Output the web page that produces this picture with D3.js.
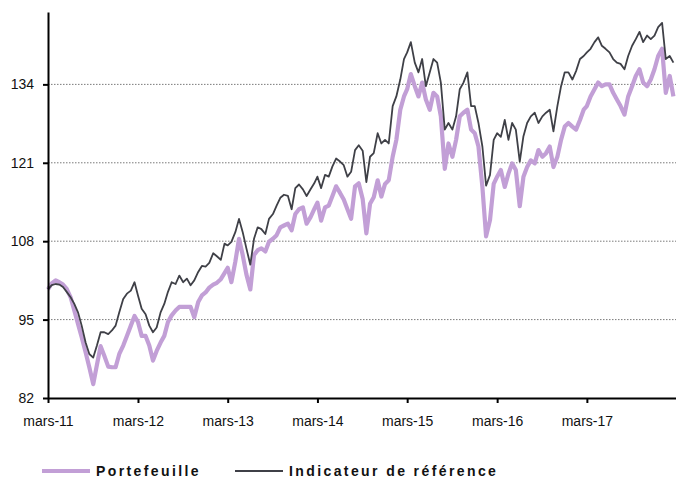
<!DOCTYPE html>
<html>
<head>
<meta charset="utf-8">
<script src="https://cdn.jsdelivr.net/npm/d3@7"></script>
<style>
  body { margin: 0; background: #fff; }
  svg { display: block; font-family: "Liberation Sans", Arial, sans-serif; }
  .tick text { font-size: 14px; fill: #111; }
  .legend text { font-size: 14px; font-weight: bold; letter-spacing: 2.4px; fill: #111; }
</style>
</head>
<body>
<svg id="chart" width="676" height="478"></svg>
<script>
// semi-monthly readings, 1st and 16th of each month from March 2011
var portefeuille = [
  100, 101, 101.5, 101.2, 100.8, 100.1, 98.7, 96.5, 94.3, 92.1,
  89.6, 87.1, 84.3, 87.5, 90.6, 89, 87.2, 87.1, 87.1, 89.3,
  90.7, 92.3, 94, 95.6, 94.6, 92.3, 92.3, 90.7, 88.2, 89.8,
  91.2, 92.3, 94.6, 95.7, 96.5, 97.1, 97.1, 97.1, 97.1, 95.4,
  97.9, 99, 99.5, 100.3, 100.8, 101.1, 101.7, 102.7, 103.6, 101.2,
  104.6, 108.4, 105.7, 102.5, 100, 105.7, 106.5, 106.8, 106.3, 107.9,
  108.4, 109, 110.3, 110.6, 110.9, 109.8, 112.5, 113.3, 113.6, 110.9,
  112, 113.3, 114.4, 111.4, 113.6, 113.9, 115.5, 117.1, 116, 114.9,
  113.3, 111.7, 117.1, 117.6, 115, 109.3, 114.2, 115.3, 118.1, 115.4,
  117.5, 118.1, 122, 124.8, 129.8, 132, 133.2, 135.7, 133.7, 132,
  134.3, 131.5, 129.8, 132.6, 132, 128.7, 120, 124.2, 122, 124.8,
  128.7, 129.3, 129.8, 126.5, 125.9, 123.7, 117, 108.8, 111.5, 117.5,
  118.7, 119.8, 117, 119.2, 120.9, 119.8, 113.8, 118.7, 120.3, 121.4,
  120.9, 123.1, 122, 122.6, 123.7, 120.3, 122, 124.8, 127, 127.6,
  127, 126.5, 128.1, 129.8, 130.4, 132, 133.2, 134.3, 133.7, 134,
  134, 132.6, 131.5, 130.4, 129, 132, 133.7, 135.4, 136.5, 134.3,
  133.7, 134.8, 136.5, 138.7, 139.9, 132.6, 135.4, 132
];

var indicateur = [
  100, 100.7, 100.9, 100.8, 100.4, 99.6, 98.7, 97.6, 96.2, 94,
  91.2, 89.3, 88.7, 90.7, 92.9, 92.9, 92.6, 93.2, 94, 96.2,
  98.4, 99.3, 99.8, 101.2, 99, 96.8, 95.9, 94, 92.9, 93.7,
  96.2, 97.6, 99.6, 101.2, 100.9, 102.3, 101.2, 101.8, 100.7, 101.5,
  102.9, 103.9, 103.8, 104.4, 106, 105.5, 104.9, 107.6, 107.3, 107.9,
  109.5, 111.7, 109.5, 106.8, 104.1, 108.4, 110.3, 110, 109.2, 111.7,
  112.5, 113.9, 115.2, 115.7, 115.5, 113.3, 116.8, 117.4, 116.6, 115.5,
  116.6, 117.6, 118.7, 116.8, 119, 118.7, 120.4, 121.7, 121.2, 120.6,
  118.7, 119.5, 123.1, 123.9, 123, 117.8, 122, 122.6, 125.9, 124.2,
  124.8, 124.2, 130.4, 132, 134.8, 138.2, 139.3, 141, 137.6, 136,
  138.2, 133.7, 136, 138.2, 137.6, 134.3, 126.5, 127.6, 126.5, 128.7,
  133.2, 134.3, 136, 130.4, 130.4, 127.6, 123.7, 117.2, 119, 124.8,
  125.9, 125.3, 128.1, 124.8, 127.6, 126.5, 121.2, 125.4, 127.6, 128.7,
  129.3, 127.6, 128.7, 129.3, 129.8, 126.2, 130.4, 133.7, 136, 136,
  134.8, 136.2, 138.2, 138.7, 139.3, 139.9, 141, 141.8, 140.4, 139.9,
  139.3, 138.2, 137.6, 137.4, 136.5, 138.7, 140.4, 141.5, 142.7, 141,
  142.1, 141.5, 142.1, 143.5, 144.2, 138.2, 138.7, 137.6
];

var yTicks = [82, 95, 108, 121, 134];
var xTickYears = [2011, 2012, 2013, 2014, 2015, 2016, 2017];
var seriesNames = ["Portefeuille", "Indicateur de référence"];

//////////////////////////////////////////////////////////////////////////////

var dates = portefeuille.map(function(d, i){
  return new Date(2011, 2 + Math.floor(i / 2), i % 2 ? 16 : 1);
});

var svg = d3.select("#chart");

var x = d3.scaleTime()
  .domain([new Date(2011, 2, 1), new Date(2018, 2, 1)])
  .range([48, 676.6]);

var y = d3.scaleLinear()
  .domain([82, 146])
  .range([398, 12]);

// dotted gridlines
svg.append("g")
  .selectAll("line")
  .data(yTicks.slice(1))
  .enter().append("line")
    .attr("x1", 48)
    .attr("x2", 676)
    .attr("y1", function(d){ return y(d); })
    .attr("y2", function(d){ return y(d); })
    .attr("stroke", "#7a7a7a")
    .attr("stroke-width", 1)
    .attr("stroke-dasharray", "1.5,1.5");

var line = d3.line()
  .x(function(d, i){ return x(dates[i]); })
  .y(function(d){ return y(d); });

svg.append("path")
  .datum(portefeuille)
  .attr("fill", "none")
  .attr("stroke", "#c29fd6")
  .attr("stroke-width", 4.2)
  .attr("stroke-linejoin", "round")
  .attr("d", line);

svg.append("path")
  .datum(indicateur)
  .attr("fill", "none")
  .attr("stroke", "#3f4047")
  .attr("stroke-width", 1.8)
  .attr("stroke-linejoin", "round")
  .attr("d", line);

// axes
var yAxis = d3.axisLeft(y)
  .tickValues(yTicks)
  .tickSize(5)
  .tickSizeOuter(0)
  .tickPadding(9);

svg.append("g")
  .attr("transform", "translate(48,0)")
  .call(yAxis);

var xAxis = d3.axisBottom(x)
  .tickValues(xTickYears.map(function(yr){ return new Date(yr, 2, 1); }))
  .tickFormat(function(d){ return "mars-" + d3.timeFormat("%y")(d); })
  .tickSize(5)
  .tickSizeOuter(0)
  .tickPadding(13);

svg.append("g")
  .attr("transform", "translate(0,398)")
  .call(xAxis);

svg.selectAll(".domain").attr("stroke", "#000").attr("stroke-width", 2);
svg.selectAll(".tick line").attr("stroke", "#000").attr("stroke-width", 2);
svg.selectAll(".tick text").attr("font-family", null);

// legend
var legend = svg.append("g").attr("class", "legend");
var legendX = [42, 235];
var legendColors = ["#c29fd6", "#3f4047"];
var legendWidths = [4.2, 1.8];

seriesNames.forEach(function(name, i){
  legend.append("line")
    .attr("x1", legendX[i])
    .attr("x2", legendX[i] + 48)
    .attr("y1", 471)
    .attr("y2", 471)
    .attr("stroke", legendColors[i])
    .attr("stroke-width", legendWidths[i]);
  legend.append("text")
    .attr("x", legendX[i] + 54)
    .attr("y", 476)
    .text(name);
});
</script>
</body>
</html>
